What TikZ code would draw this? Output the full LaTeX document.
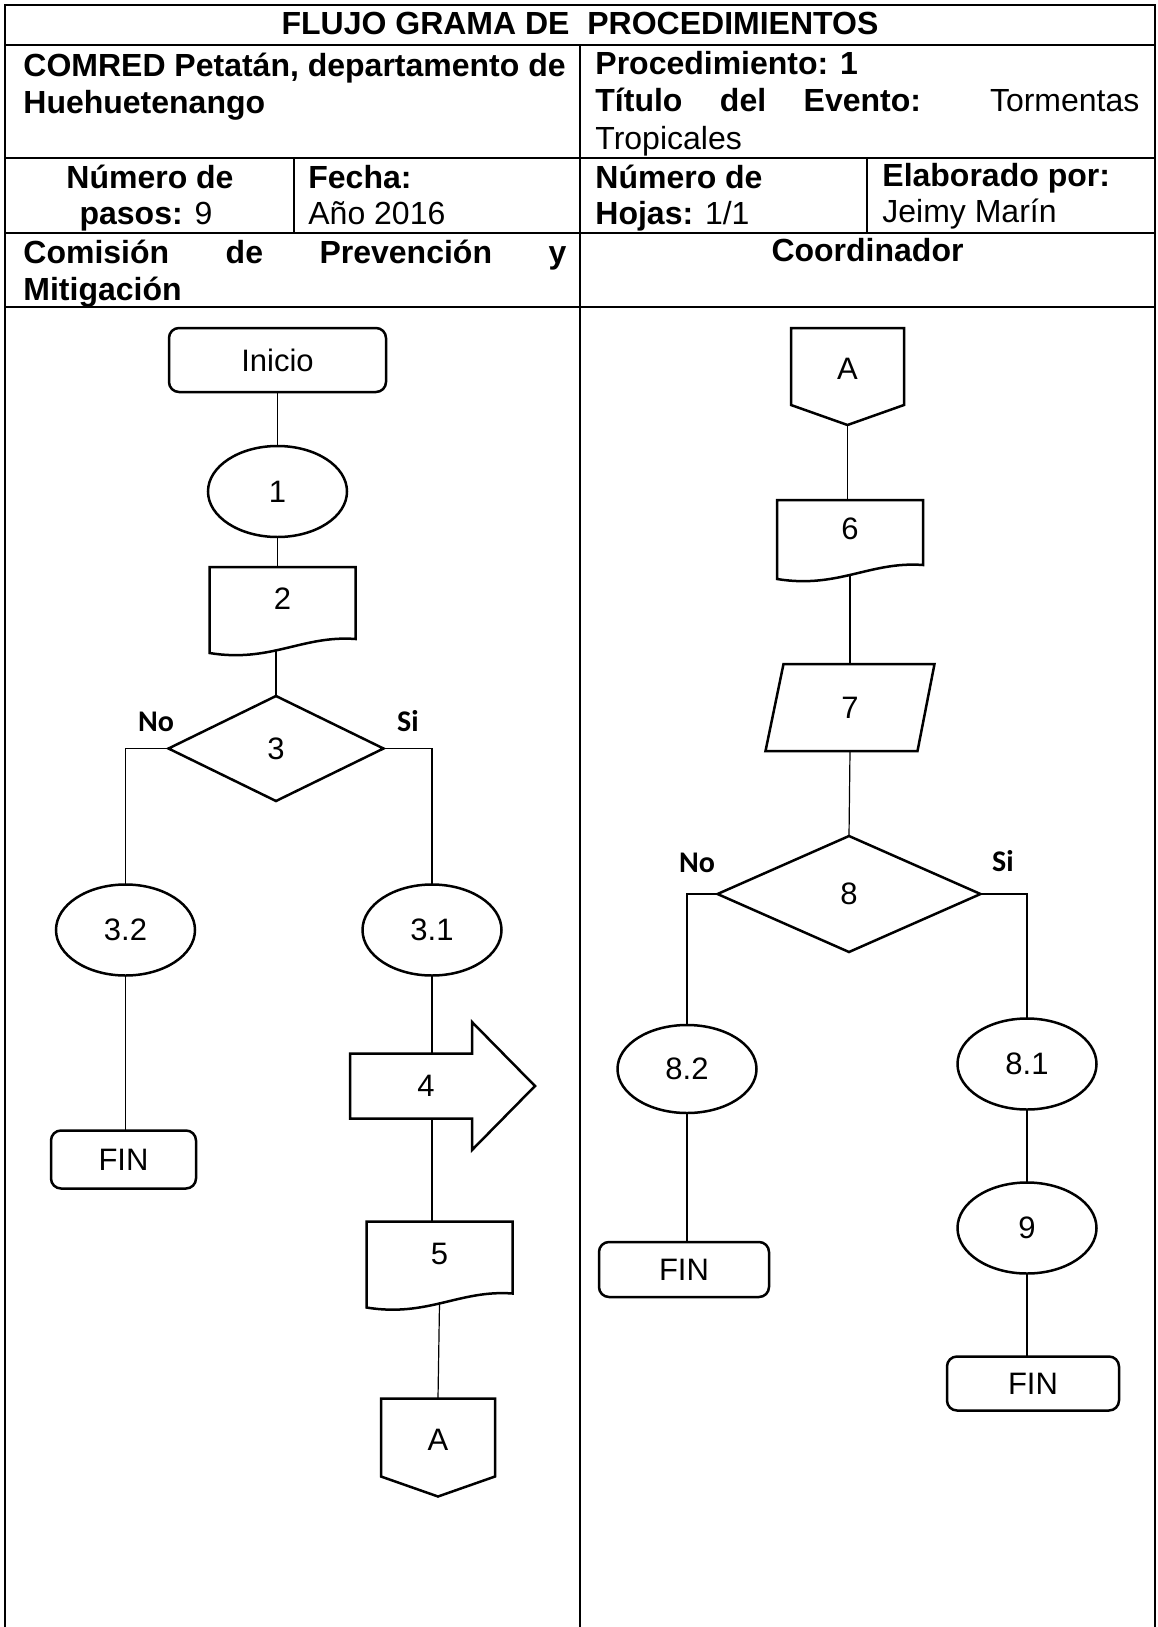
\documentclass[tikz,border=0pt]{standalone}
\usepackage{fontspec}
\setmainfont{Liberation Sans}
\newfontfamily\calibfont{Carlito}
\usetikzlibrary{shapes.geometric,positioning}

\tikzset{
    gridline/.style={line width=0.8pt},
    hdr/.style={inner sep=0pt,font=\fontsize{16}{19}\selectfont},
    flow/.style={inner sep=0pt,outer sep=0pt,font=\fontsize{15.5}{18}\selectfont},
    shapeline/.style={line width=1.25pt,line join=miter},
    startend/.style={flow,draw,shapeline,rounded corners=5pt,minimum width=72.5pt,minimum height=29pt},
    oval/.style={flow,draw,shapeline,ellipse,minimum width=69.5pt,minimum height=45.5pt},
    decision/.style={flow,draw,shapeline,diamond,minimum width=107.5pt,minimum height=52.5pt},
    docbox/.style={flow,minimum width=73pt,minimum height=43pt,text height=11pt,text depth=11.5pt},
    offpage/.style={flow,minimum width=56.5pt,minimum height=48.5pt,text height=11pt,text depth=8.4pt},
    inputbox/.style={flow,minimum width=84.5pt,minimum height=43.5pt},
    flecha/.style={flow,minimum width=76pt,minimum height=32.5pt},
    link/.style={line width=0.6pt},
    rama/.style={inner sep=0pt,font=\calibfont\bfseries\fontsize{15}{17}\selectfont}
}

\newcommand{\docoutline}[1]{\draw[shapeline] (#1.north west) -- (#1.north east) -- ([yshift=7pt]#1.south east)
    .. controls ([shift={(10pt,9pt)}]#1.south) and ([shift={(-6pt,-5pt)}]#1.south) .. (#1.south west) -- cycle;}
\newcommand{\offpageoutline}[1]{\draw[shapeline] (#1.north west) -- (#1.north east) -- ([yshift=10pt]#1.south east)
    -- (#1.south) -- ([yshift=10pt]#1.south west) -- cycle;}
\newcommand{\iooutline}[1]{\draw[shapeline] ([xshift=9pt]#1.north west) -- (#1.north east)
    -- ([xshift=-8.5pt]#1.south east) -- (#1.south west) -- cycle;}
\newcommand{\arrowoutline}[1]{\draw[shapeline] ([shift={(-38pt,16.25pt)}]#1.center) -- ++(61pt,0pt) -- ++(0pt,15.75pt)
    -- ++(31.5pt,-32pt) -- ++(-31.5pt,-32pt) -- ++(0pt,15.75pt) -- ++(-61pt,0pt) -- cycle;}

\begin{document}
\begin{tikzpicture}[x=0.5pt,y=-0.5pt]
    \useasboundingbox (0,0) rectangle (1157,1627);

    \draw[gridline] (5,1627) -- (5,5) -- (1155,5) -- (1155,1627);
    \draw[gridline] (5,45) -- (1155,45);
    \draw[gridline] (5,158) -- (1155,158);
    \draw[gridline] (5,233) -- (1155,233);
    \draw[gridline] (5,307) -- (1155,307);
    \draw[gridline] (580,45) -- (580,1627);
    \draw[gridline] (294,158) -- (294,233);
    \draw[gridline] (867,158) -- (867,233);

    \node[hdr,anchor=base] (titulo) at (580,35) {\textbf{FLUJO GRAMA DE\ \ PROCEDIMIENTOS}};
    \node[hdr,anchor=base west] (comred) at (23,76) {\textbf{COMRED Petatán, departamento de}};
    \node[hdr,anchor=base west] (depto) at (23,113) {\textbf{Huehuetenango}};
    \node[hdr,anchor=base west] (proc) at (595,75) {\textbf{Procedimiento: 1}};
    \node[hdr,anchor=base west] (evento) at (595,112) {\makebox[272pt][s]{\textbf{Título del Evento:} Tormentas}};
    \node[hdr,anchor=base west] (tropic) at (595,149) {Tropicales};
    \node[hdr,anchor=base] (numpasos) at (150,188) {\textbf{Número de}};
    \node[hdr,anchor=base] (pasos) at (146,224) {\textbf{pasos:} 9};
    \node[hdr,anchor=base west] (fecha) at (308,188) {\textbf{Fecha:}};
    \node[hdr,anchor=base west] (anio) at (308,224) {Año 2016};
    \node[hdr,anchor=base west] (numhojas) at (595,188) {\textbf{Número de}};
    \node[hdr,anchor=base west] (hojas) at (595,224) {\textbf{Hojas:} 1/1};
    \node[hdr,anchor=base west] (elab) at (882,186) {\textbf{Elaborado por:}};
    \node[hdr,anchor=base west] (autor) at (882,222) {Jeimy Marín};
    \node[hdr,anchor=base west] (comision) at (23,263) {\makebox[271.5pt][s]{\textbf{Comisión de Prevención y}}};
    \node[hdr,anchor=base west] (mitig) at (23,300) {\textbf{Mitigación}};
    \node[hdr,anchor=base] (coord) at (867.5,261) {\textbf{Coordinador}};

    \node[startend,minimum width=108.5pt,minimum height=32pt] (inicio) at (277.5,360) {Inicio};
    \node[oval] (p1) [below=27pt of inicio] {1};
    \node[docbox] (p2) [below=15pt of p1, xshift=2.5pt] {2};
    \node[decision] (p3) [below=21.5pt of p2, xshift=-3.25pt] {3};
    \node[oval] (p32) at (125.5,930) {3.2};
    \node[oval] (p31) at (432,930) {3.1};
    \node[startend] (fin1) [below=77.5pt of p32, xshift=-1pt] {FIN};
    \node[flecha] (p4) [below=39pt of p31, xshift=-3pt] {4};
    \node[docbox] (p5) [below=51.5pt of p4, xshift=6.75pt] {5};
    \node[offpage,minimum width=57pt,minimum height=49pt] (conA) [below=45.5pt of p5, xshift=-0.75pt] {A};

    \node[offpage] (conB) at (847.5,376.5) {A};
    \node[docbox,minimum height=39.5pt] (p6) [below=37.5pt of conB, xshift=1.25pt] {6};
    \node[inputbox] (p7) [below=42.5pt of p6] {7};
    \node[decision,minimum width=131.5pt,minimum height=58pt] (p8) [below=42.5pt of p7, xshift=-0.5pt] {8};
    \node[oval,minimum height=44pt] (p82) at (687,1069) {8.2};
    \node[oval] (p81) at (1027,1064) {8.1};
    \node[startend,minimum width=85pt,minimum height=27.5pt] (fin2) [below=64.5pt of p82, xshift=-1.5pt] {FIN};
    \node[oval] (p9) [below=36.5pt of p81] {9};
    \node[startend,minimum width=86pt,minimum height=27pt] (fin3) [below=41.5pt of p9, xshift=3pt] {FIN};

    \node[rama] (no3) at (156,722) {No};
    \node[rama] (si3) at (408,721) {Si};
    \node[rama] (no8) at (697,863) {No};
    \node[rama] (si8) at (1003,861) {Si};

    \docoutline{p2}
    \docoutline{p5}
    \docoutline{p6}
    \offpageoutline{conA}
    \offpageoutline{conB}
    \iooutline{p7}
    \arrowoutline{p4}

    \draw[link] (inicio.south) -- (p1.north);
    \draw[link] (p1.south) -- (p1.south |- p2.north);
    \draw[link] ([yshift=1pt]p3.north |- p2.south) -- (p3.north);
    \draw[link] (p3.west) -| (p32.north);
    \draw[link] (p3.east) -| (p31.north);
    \draw[link] (p32.south) -- (p32.south |- fin1.north);
    \draw[link] (p31.south) -- (p31.south |- p4.north);
    \draw[link] (p31.south |- p4.south) -- (p31.south |- p5.north);
    \draw[link] ([yshift=2pt]p5.south) -- (conA.north);
    \draw[link] (conB.south) -- (conB.south |- p6.north);
    \draw[link] ([yshift=2pt]p6.south) -- (p7.north);
    \draw[link] (p7.south) -- (p8.north);
    \draw[link] (p8.west) -| (p82.north);
    \draw[link] (p8.east) -| (p81.north);
    \draw[link] (p82.south) -- (p82.south |- fin2.north);
    \draw[link] (p81.south) -- (p9.north);
    \draw[link] (p9.south) -- (p9.south |- fin3.north);
\end{tikzpicture}
\end{document}
